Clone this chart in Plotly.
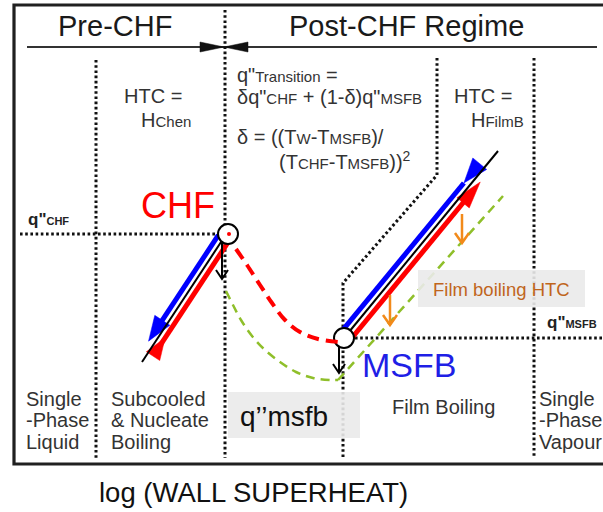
import numpy as np
import plotly.graph_objects as go

# Canvas size; the diagram uses canvas units (x: log wall superheat, y: log heat flux, downward)
W, H = 603, 512
FONT = "Arial, Liberation Sans, sans-serif"

INK = "#111111"
TEXT = "#333333"
RED = "#ff0000"
BLUE = "#0000ff"
MSFB_BLUE = "#1f1fe6"
GREEN = "#8fbf2a"
ORANGE = "#f28a1a"
HTC_TEXT = "#c0651c"

# ---- diagram data ----
FRAME_X = [14, 612]
FRAME_Y = [5, 464]
HEADER_Y = 47
HEADER_X = [27, 597]
REGIME_TITLES = ["Pre-CHF", "Post-CHF Regime"]
REGIME_TITLE_X = [115, 406]
REGIME_SPLIT_X = 224

CHF_POINT = (228, 234)
MSFB_POINT = (344, 338)
NUCLEATE_LINE = [(142, 362), (225, 236)]
FILM_LINE = [(344, 338), (498, 151)]

# transition boiling interpolation between CHF and MSFB
TRANSITION_X = [236, 247, 260, 272, 285, 300, 318, 339]
TRANSITION_Y = [249, 265, 285, 303, 320, 332, 339, 342]

# film boiling HTC curve (lowered)
FB_HTC_X = [226, 233, 241, 252, 265, 280, 296, 313, 330, 338]
FB_HTC_Y = [291, 305, 320, 336, 350, 362, 372, 378, 380, 380]
FB_HTC_LINE_X = [338, 503]
FB_HTC_LINE_Y = [380, 196]

# regime boundaries (dotted)
BOUNDARY_V = [(96, 60, 458), (225, 10, 458), (534, 58, 458)]
TRANSITION_BOUNDARY_X = [437, 437, 343, 343]
TRANSITION_BOUNDARY_Y = [58, 175, 283, 458]
Q_CHF_LEVEL = (20, 218, 234)
Q_MSFB_LEVEL = (355, 603, 338)

# downward shift arrows (x, y_start, y_end)
BLACK_DROPS = [(222, 243, 279), (339, 347, 373)]
ORANGE_DROPS = [(462, 214, 243), (390, 295, 325)]

REGION_LABELS = [
    (24, ["Single", "-Phase", "Liquid"]),
    (109, ["Subcooled", "& Nucleate", "Boiling"]),
    (537, ["Single", "-Phase", "Vapour"]),
]
REGION_LABEL_Y = [399, 420, 442]

fig = go.Figure()


def line(xs, ys, color, width, dash=None, shape="linear"):
    fig.add_trace(go.Scatter(
        x=list(xs), y=list(ys), mode="lines",
        line=dict(color=color, width=width, dash=dash, shape=shape),
        hoverinfo="skip", showlegend=False))


def polygon(pts, color):
    xs = [p[0] for p in pts] + [pts[0][0]]
    ys = [p[1] for p in pts] + [pts[0][1]]
    fig.add_trace(go.Scatter(
        x=xs, y=ys, mode="lines", fill="toself", fillcolor=color,
        line=dict(color=color, width=0.5), hoverinfo="skip", showlegend=False))


def head(tip, direction, length, half):
    d = np.asarray(direction, float)
    d = d / np.linalg.norm(d)
    n = np.array([-d[1], d[0]])
    tip = np.asarray(tip, float)
    base = tip - d * length
    return [tuple(tip), tuple(base + n * half), tuple(base - n * half)]


def drop_arrow(x, y0, y1, color, width, half, length):
    line([x, x], [y0, y1], color, width)
    line([x - half, x, x + half], [y1 - length, y1, y1 - length], color, width)


DOT = "2.6px,2.6px"
DOT_W = 3

# frame
line([FRAME_X[1], FRAME_X[0], FRAME_X[0], FRAME_X[1]],
     [FRAME_Y[0], FRAME_Y[0], FRAME_Y[1], FRAME_Y[1]], "#202020", 3.2)

# header rule with the regime split marker
line(HEADER_X, [HEADER_Y, HEADER_Y], "#333333", 2)
polygon([(REGIME_SPLIT_X - 24, HEADER_Y - 5), (REGIME_SPLIT_X - 24, HEADER_Y + 5),
         (REGIME_SPLIT_X, HEADER_Y)], INK)
polygon([(REGIME_SPLIT_X + 24, HEADER_Y - 5), (REGIME_SPLIT_X + 24, HEADER_Y + 5),
         (REGIME_SPLIT_X, HEADER_Y)], INK)

# dotted regime boundaries and heat-flux levels
for x, y0, y1 in BOUNDARY_V:
    line([x, x], [y0, y1], INK, DOT_W, DOT)
line(TRANSITION_BOUNDARY_X, TRANSITION_BOUNDARY_Y, INK, DOT_W, DOT)
line(Q_CHF_LEVEL[:2], [Q_CHF_LEVEL[2]] * 2, INK, DOT_W, DOT)
line(Q_MSFB_LEVEL[:2], [Q_MSFB_LEVEL[2]] * 2, INK, DOT_W, DOT)

# film boiling HTC curve (green dashed)
line(FB_HTC_X, FB_HTC_Y, GREEN, 2.5, "9px,6px", "spline")
line(FB_HTC_LINE_X, FB_HTC_LINE_Y, GREEN, 2.5, "9px,6px")

# nucleate boiling branch with heating (red) / cooling (blue) arrows
p0, p1 = np.array(NUCLEATE_LINE[0], float), np.array(NUCLEATE_LINE[1], float)
u = (p1 - p0) / np.linalg.norm(p1 - p0)
nrm = np.array([u[1], -u[0]])
b0 = p0 + 6 * nrm
line([b0[0] + 44 * u[0], p1[0] + 6 * nrm[0] - 3 * u[0]],
     [b0[1] + 44 * u[1], p1[1] + 6 * nrm[1] - 3 * u[1]], BLUE, 5)
polygon(head(b0 + 21 * u, -u, 25, 9), BLUE)
r0 = p0 - 6 * nrm
line([r0[0] + 14 * u[0], p1[0] - 6 * nrm[0] + 2 * u[0]],
     [r0[1] + 14 * u[1], p1[1] - 6 * nrm[1] + 2 * u[1]], RED, 5)
polygon(head(r0 + 33 * u, u, 22, 8), RED)
line([p0[0], p1[0]], [p0[1], p1[1]], "#000000", 2)

# film boiling branch
q0, q1 = np.array(FILM_LINE[0], float), np.array(FILM_LINE[1], float)
v = (q1 - q0) / np.linalg.norm(q1 - q0)
nv = np.array([v[1], -v[0]])
bb = q0 + 6 * nv
t_blue = (bb[1] - 183) / -v[1]
line([bb[0], bb[0] + t_blue * v[0]], [bb[1], bb[1] + t_blue * v[1]], BLUE, 5)
polygon(head(bb + t_blue * v, -v, 25, 9), BLUE)
rr = q0 - 6 * nv
t_red = (rr[1] - 182) / -v[1]
line([rr[0] + 4 * v[0], rr[0] + (t_red - 24) * v[0]],
     [rr[1] + 4 * v[1], rr[1] + (t_red - 24) * v[1]], RED, 5)
polygon(head(rr + t_red * v, v, 27, 8), RED)
line([q0[0], q1[0]], [q0[1], q1[1]], "#000000", 2)

# downward shifts
for x, y0, y1 in ORANGE_DROPS:
    drop_arrow(x, y0, y1, ORANGE, 2.5, 7, 10)
for x, y0, y1 in BLACK_DROPS:
    drop_arrow(x, y0, y1, "#000000", 2, 6, 9)

# CHF and MSFB points
fig.add_trace(go.Scatter(
    x=[CHF_POINT[0], MSFB_POINT[0]], y=[CHF_POINT[1], MSFB_POINT[1]], mode="markers",
    marker=dict(size=20, color="white", line=dict(color="#000000", width=2)),
    hoverinfo="skip", showlegend=False))

# transition boiling curve (red dashed)
line(TRANSITION_X, TRANSITION_Y, RED, 4, "12px,7px", "spline")
fig.add_trace(go.Scatter(
    x=[CHF_POINT[0] + 1], y=[CHF_POINT[1]], mode="markers",
    marker=dict(size=4, color=RED), hoverinfo="skip", showlegend=False))

# shaded label boxes
for x0, x1, y0, y1 in [(228, 360, 392, 438), (418, 585, 270, 307)]:
    fig.add_shape(type="rect", xref="x", yref="y", x0=x0, x1=x1, y0=y0, y1=y1,
                  fillcolor="rgba(234,234,234,0.9)", line=dict(width=0), layer="above")


def text(x, y, s, size, color=TEXT, anchor="left", weight="normal"):
    fig.add_annotation(x=x, y=y, xref="x", yref="y", text=s, showarrow=False,
                       xanchor=anchor, yanchor="middle",
                       font=dict(family=FONT, size=size, color=color, weight=weight))


def small(s, size=15):
    return f'<span style="font-size:{size}px">{s}</span>'


for t, x in zip(REGIME_TITLES, REGIME_TITLE_X):
    text(x, 26, t, 29, "#1a1a1a", "center")

text(122, 96, "HTC =", 20)
text(139, 120, "H" + small("Chen"), 20)
text(452, 96, "HTC =", 20)
text(469, 120, "H" + small("FilmB"), 20)

text(235, 75, 'q"' + small("Transition") + " =", 20)
text(235, 97, 'δq"' + small("CHF") + ' + (1-δ)q"' + small("MSFB"), 20)
text(235, 137, "δ = ((T" + small("W") + "-T" + small("MSFB") + ")/", 20)
text(277, 160, "(T" + small("CHF") + "-T" + small("MSFB") + "))<sup>2</sup>", 20)

text(26, 219, 'q"' + small("CHF", 11), 17, "#222222", weight="bold")
text(545, 322, 'q"' + small("MSFB", 11), 17, "#222222", weight="bold")

text(178, 205, "CHF", 36, RED, "center")
text(409, 365, "MSFB", 34, MSFB_BLUE, "center")

for x, lines in REGION_LABELS:
    for s, y in zip(lines, REGION_LABEL_Y):
        text(x, y, s, 20)
text(443, 407, "Film Boiling", 20, TEXT, "center")

text(284, 416, "q’’msfb", 28, "#111111", "center")
text(501, 289, "Film boiling HTC", 18.5, HTC_TEXT, "center")

text(253, 492, "log (WALL SUPERHEAT)", 27.5, "#111111", "center")

fig.update_xaxes(visible=False, range=[0, W], fixedrange=True)
fig.update_yaxes(visible=False, range=[H, 0], fixedrange=True)
fig.update_layout(width=W, height=H, margin=dict(l=0, r=0, t=0, b=0),
                  paper_bgcolor="white", plot_bgcolor="white", showlegend=False)

fig.write_html("out.html")
